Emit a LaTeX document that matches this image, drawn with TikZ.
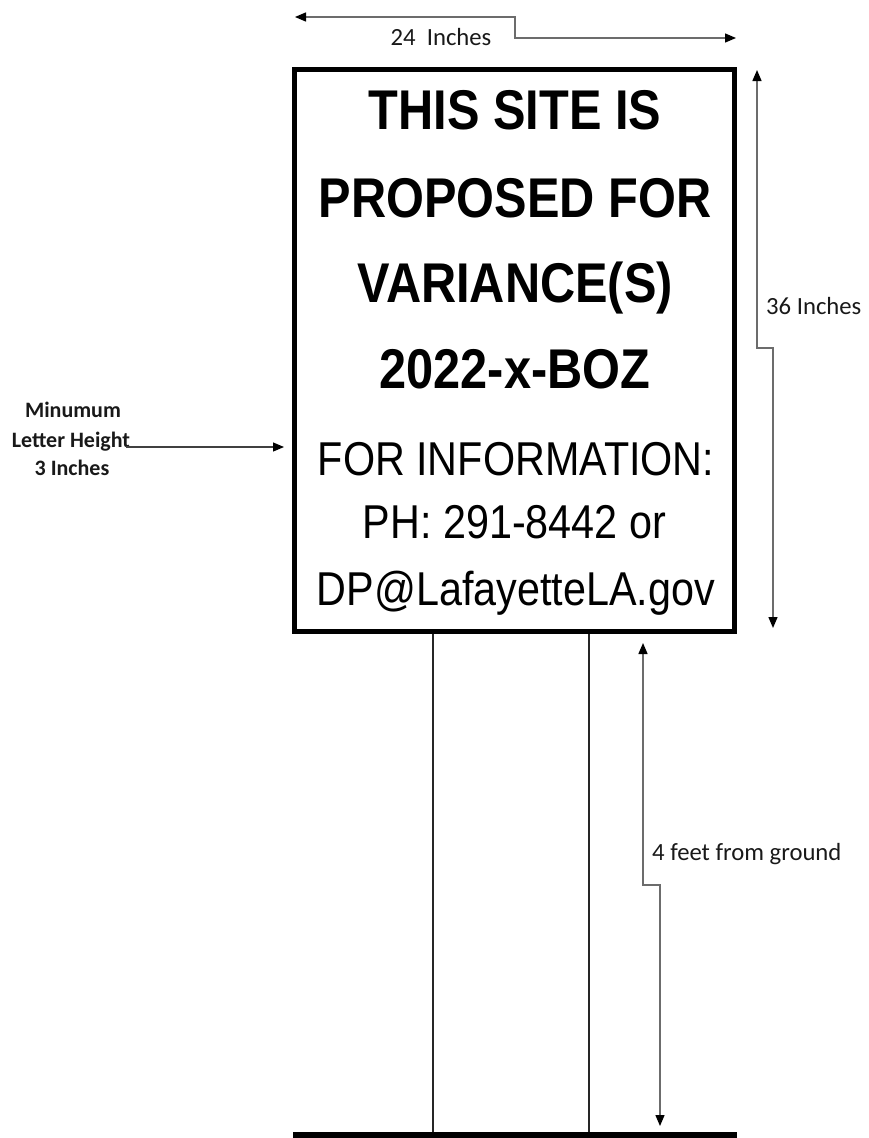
\documentclass[tikz,border=0pt]{standalone}
\usepackage{fontspec}
\setmainfont{Liberation Sans}
\newfontfamily\signfont[FakeStretch=0.87]{Liberation Sans}
\newfontfamily\labfont{Carlito}
\usetikzlibrary{arrows.meta}
\begin{document}
\begin{tikzpicture}[x=1pt,y=-1pt,
  boldline/.style={inner sep=0pt, anchor=base, font=\signfont\bfseries\fontsize{56}{60}\selectfont},
  regline/.style={inner sep=0pt, anchor=base, font=\signfont\fontsize{47.5}{50}\selectfont},
  dimlabel/.style={inner sep=0pt, anchor=base west, text=black!90, font=\labfont\fontsize{24.7}{28}\selectfont},
  minlabel/.style={inner sep=0pt, anchor=base, text=black!90, font=\labfont\bfseries\fontsize{22}{25}\selectfont},
  dim/.style={draw=gray!85!black, line width=1.4pt,
    {Triangle[length=11pt,width=9pt,color=black]}-{Triangle[length=11pt,width=9pt,color=black]}},
  pointer/.style={draw=black!75, line width=1.2pt, -{Triangle[length=11pt,width=9pt,color=black]}},
  post/.style={draw=black!85, line width=2pt}
]
\useasboundingbox (0,0) rectangle (868,1138);

% sign board
\node[draw, line width=5pt, minimum width=440pt, minimum height=562pt, inner sep=0pt] (sign) at (514.5,350.5) {};
\node[boldline] (l1) at (515,129) {THIS SITE IS};
\node[boldline] (l2) at (515,217) {PROPOSED FOR};
\node[boldline] (l3) at (515,302) {VARIANCE(S)};
\node[boldline] (l4) at (515,388) {2022-x-BOZ};
\node[regline] (l5) at (516,475) {FOR INFORMATION:};
\node[regline] (l6) at (514.5,538) {PH: 291-8442 or};
\node[regline] (l7) at (516,605) {DP@LafayetteLA.gov};

% ground and posts
\node[fill=black, minimum width=444pt, minimum height=7pt, inner sep=0pt] (ground) at (514.5,1135.5) {};
\draw[post] ([xshift=-81.5pt]sign.south) -- ([xshift=-81.5pt]ground.north);
\draw[post] ([xshift=74.5pt]sign.south) -- ([xshift=74.5pt]ground.north);

% 24 inches
\coordinate (wL) at (295,17);
\coordinate (wJ) at (515,38);
\coordinate (wR) at (736,38);
\draw[dim] (wL) -| (wJ) -- (wR);
\node[dimlabel, anchor=base] (wt) at (441,45) {24\ \ Inches};

% 36 inches
\coordinate (hT) at (757,70);
\coordinate (hJ) at (773,348);
\coordinate (hB) at (773,628);
\draw[dim] (hT) |- (hJ) -- (hB);
\node[dimlabel] (ht) at (766,314) {36 Inches};

% 4 feet
\coordinate (fT) at (643,643);
\coordinate (fJ) at (660,885);
\coordinate (fB) at (660,1126);
\draw[dim] (fT) |- (fJ) -- (fB);
\node[dimlabel] (ft) at (652,860) {4 feet from ground};

% minimum letter height
\node[minlabel] (m1) at (73,417) {Minumum};
\node[minlabel] (m2) at (71,447) {Letter Height};
\node[minlabel] (m3) at (72,475) {3 Inches};
\coordinate (mT) at (284,447);
\draw[pointer] ([xshift=-4pt]m2.base east) -- (mT);
\end{tikzpicture}
\end{document}
